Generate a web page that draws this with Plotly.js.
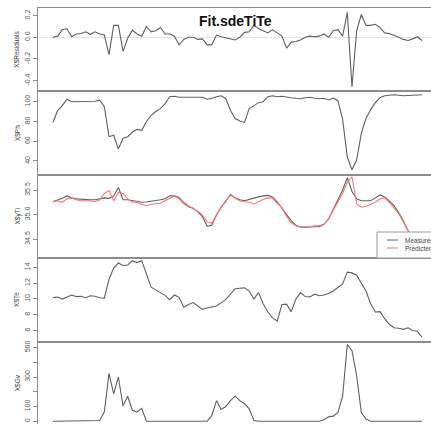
<!DOCTYPE html>
<html><head><meta charset="utf-8">
<script src="https://cdn.plot.ly/plotly-3.0.1.min.js"></script>
<style>html,body{margin:0;padding:0;overflow:hidden;background:#fff;width:431px;height:424px}#chart{width:460px;height:430px}</style>
</head><body><div id="chart"></div>
<script>
// ---- data (index 1..80) ----
const residuals=[0.0,0.01,0.07,0.08,0.005,0.03,0.035,0.05,0.027,0.05,
0.03,0.02,-0.16,0.11,0.11,-0.13,-0.01,0.065,0.03,0.01,
0.10,0.05,0.06,0.09,0.03,0.03,0.01,-0.07,-0.02,0.0,
0.0,-0.02,-0.015,-0.07,-0.07,0.02,0.005,-0.005,-0.02,-0.025,
0.0,0.045,0.05,0.11,0.08,0.06,0.04,0.07,0.04,0.01,
-0.10,-0.045,-0.04,-0.025,0.0,0.01,0.005,0.01,0.03,0.0,
0.06,0.07,0.01,0.23,-0.46,0.06,0.21,0.11,0.11,0.12,
0.09,0.04,0.035,0.02,0.0,-0.02,-0.03,-0.015,0.005,-0.03];
const ph=[79,91,96,102.5,100,100,100,100,100,100.5,
101.5,95,64.6,66,52,63,64.5,69,72,71,
80,86,90,93,98,105,105.5,104.5,104.5,104.5,
104.5,104.5,104.5,102.5,103.3,105,106,103,91,83,
80.5,79,93,96,99,100,105,106,105,105.5,
104.5,104,103.4,103,104,104.5,103.5,103,103.5,101.7,
103.5,101,82,44,31,41,68,83,92,99,
104,106,106.5,107,106.5,106,106.3,106.5,107,107];
const yTiMeasured=[35.26,35.29,35.33,35.38,35.34,35.32,35.31,35.30,35.30,35.30,
35.32,35.34,35.33,35.38,35.55,35.30,35.30,35.28,35.26,35.25,
35.255,35.27,35.27,35.30,35.32,35.38,35.38,35.33,35.23,35.16,
35.13,35.06,34.96,34.76,34.78,34.99,35.15,35.28,35.40,35.34,
35.30,35.28,35.31,35.34,35.36,35.38,35.39,35.36,35.26,35.13,
34.99,34.87,34.78,34.74,34.74,34.75,34.75,34.75,34.80,34.91,
35.11,35.30,35.50,35.75,35.47,35.32,35.28,35.28,35.28,35.34,
35.40,35.36,35.28,35.18,35.04,34.87,34.66,34.48,34.32,34.17];
const yTiPredicted=[35.26,35.28,35.25,35.32,35.34,35.30,35.28,35.28,35.28,35.26,
35.30,35.43,35.49,35.28,35.45,35.43,35.32,35.25,35.25,35.21,
35.18,35.21,35.22,35.23,35.28,35.33,35.38,35.36,35.25,35.18,
35.13,35.07,34.99,34.85,34.82,35.00,35.15,35.26,35.42,35.33,
35.28,35.26,35.25,35.21,35.26,35.31,35.34,35.33,35.23,35.14,
34.96,34.83,34.77,34.75,34.75,34.75,34.77,34.77,34.80,34.91,
35.09,35.26,35.43,35.66,35.77,35.22,35.15,35.17,35.21,35.25,
35.32,35.34,35.25,35.14,35.02,34.85,34.68,34.50,34.33,34.20];
const te=[10.17,10.25,9.98,10.2,10.5,10.3,10.35,10.15,10.4,10.35,
10.15,10.1,12.5,13.9,14.55,14.2,14.3,14.85,14.6,14.85,
13.1,11.5,11.15,10.85,10.45,9.9,10.5,10.2,8.95,9.3,
9.55,9.1,8.68,8.85,8.95,9.1,9.5,9.95,10.6,11.3,
11.35,11.4,11.0,10.0,10.8,9.4,8.35,7.6,7.2,9.3,
9.35,8.4,10.0,10.8,10.3,10.26,10.6,10.4,10.5,10.7,
11.0,11.4,11.9,13.4,13.3,13.0,12.0,11.0,9.4,8.35,
8.4,7.5,6.8,6.35,6.3,6.15,6.35,6.0,5.9,5.15];
const gv=[0,0,0,0,0,0,0,0,0,0,
5,65,325,186,300,105,170,75,63,88,
0,0,0,0,0,0,0,0,0,0,
0,0,0,0,40,140,80,100,140,170,
140,119,85,5,0,0,0,0,0,0,
0,0,0,0,0,0,0,0,10,30,
35,60,170,520,478,310,60,15,0,0,
0,0,0,0,0,0,0,0,0,0];
const yLabels=['X$Residuals','X$Ph','X$yTi','X$Te','X$Gv'];
const legendLabels=['Measured','Predicted'];
const chartTitle='Fit.sdeTiTe';
const tickVals=[[-0.4,-0.2,0,0.2],[40,60,80,100],[34.5,35.0,35.5],[6,8,10,12,14],[0,100,200,300,400,500]];
const tickText=[['-0.4','-0.2','0.0','0.2'],['40','60','80','100'],['34.5','35.0','35.5'],['6','8','10','12','14'],['0','100','','300','','500']];

// ---- layout ----
const obs=residuals.map((_,i)=>i+1);
const series=[residuals,ph,yTiMeasured,te,gv];
const ranges=[[-0.5,0.27],[26,110.4],[34.11,35.81],[4.6,15.16],[-25,540]];
const W=460,H=430,ML=38,MR=23,MT=8,MB=5;
const PW=W-ML-MR, PH=H-MT-MB;
const px=v=>(v-ML)/PW, py=v=>(H-MB-v)/PH;
const FONT='"Liberation Sans", Arial, sans-serif';
const lineCol='#606060', redCol='#ff7373', boxCol='#8c8c8c';

const data=[]; const layout={width:W,height:H,margin:{l:ML,r:MR,t:MT,b:MB},
 paper_bgcolor:'#fff',plot_bgcolor:'#fff',showlegend:false,font:{family:FONT},annotations:[],shapes:[]};
series.forEach((s,k)=>{
  const sx=k===0?'':String(k+1);
  data.push({x:obs,y:s,xaxis:'x'+sx,yaxis:'y'+sx,mode:'lines',line:{color:lineCol,width:1.1},hoverinfo:'skip'});
  if(k===2) data.push({x:obs,y:yTiPredicted,xaxis:'x'+sx,yaxis:'y'+sx,mode:'lines',line:{color:redCol,width:1.1},hoverinfo:'skip'});
  layout['xaxis'+sx]={domain:[0,1],anchor:'y'+sx,range:[-2.2,83.2],showline:true,mirror:true,linecolor:boxCol,linewidth:1,
    showticklabels:false,ticks:'',showgrid:false,zeroline:false};
  layout['yaxis'+sx]={domain:[1-(k+1)/5,1-k/5],anchor:'x'+sx,range:ranges[k],tickmode:'array',tickvals:tickVals[k],ticktext:tickText[k],
    ticks:'outside',ticklen:4,tickcolor:'#888',tickangle:-90,tickfont:{size:7,color:'#555',family:FONT},
    showline:true,mirror:true,linecolor:boxCol,linewidth:1,showgrid:false,
    zeroline:k===0,zerolinecolor:'#e4e4e4',zerolinewidth:1};
  layout.annotations.push({xref:'paper',yref:'paper',x:px(17),y:1-(k+0.5)/5,text:yLabels[k],textangle:-90,showarrow:false,
    xanchor:'center',yanchor:'middle',font:{size:6.5,color:'#444',family:FONT}});
});
layout.annotations.push({xref:'paper',yref:'paper',x:px(235),y:py(21),text:'<b>'+chartTitle+'</b>',showarrow:false,
  xanchor:'center',yanchor:'middle',font:{size:14,color:'#111',family:FONT}});
// legend box
layout.shapes.push({type:'rect',xref:'paper',yref:'paper',x0:px(377),x1:1.1,y0:py(258),y1:py(232),layer:'above',
  fillcolor:'#fff',line:{color:'#999',width:1}});
[[240,lineCol],[248,redCol]].forEach(([yy,c],j)=>{
  layout.shapes.push({type:'line',xref:'paper',yref:'paper',x0:px(387),x1:px(398),y0:py(yy),y1:py(yy),layer:'above',line:{color:c,width:1}});
  layout.annotations.push({xref:'paper',yref:'paper',x:px(403),y:py(yy),text:legendLabels[j],showarrow:false,xanchor:'left',yanchor:'middle',
    font:{size:6.5,color:'#444',family:FONT}});
});
Plotly.newPlot('chart',data,layout,{staticPlot:true,displayModeBar:false});
</script></body></html>
